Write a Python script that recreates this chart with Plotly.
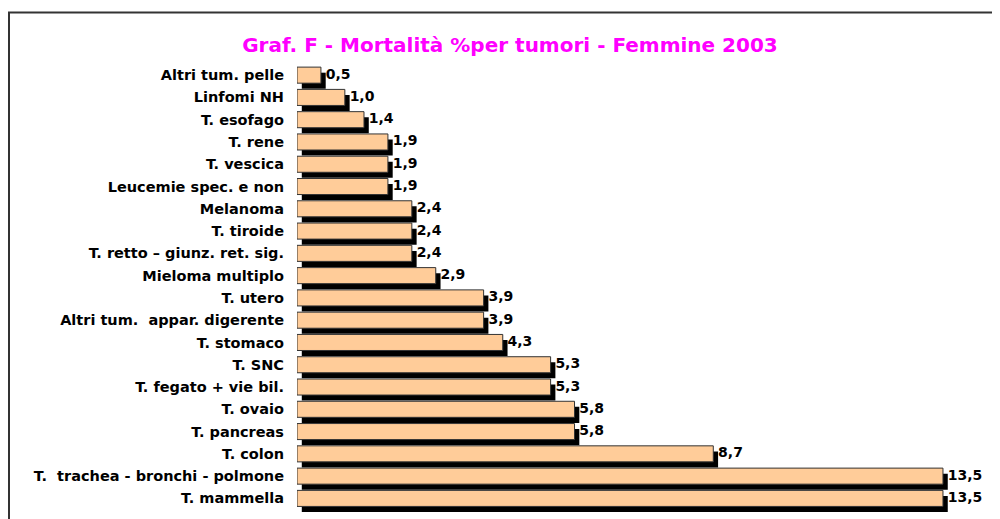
import plotly.graph_objects as go

categories = [
    "Altri tum. pelle", "Linfomi NH", "T. esofago", "T. rene", "T. vescica",
    "Leucemie spec. e non", "Melanoma", "T. tiroide", "T. retto – giunz. ret. sig.",
    "Mieloma multiplo", "T. utero", "Altri tum.  appar. digerente", "T. stomaco",
    "T. SNC", "T. fegato + vie bil.", "T. ovaio", "T. pancreas", "T. colon",
    "T.  trachea - bronchi - polmone", "T. mammella",
]
values = [0.5, 1.0, 1.4, 1.9, 1.9, 1.9, 2.4, 2.4, 2.4, 2.9, 3.9, 3.9, 4.3,
          5.3, 5.3, 5.8, 5.8, 8.7, 13.5, 13.5]
labels = [f"{v:.1f}".replace(".", ",") for v in values]
title_text = "Graf. F - Mortalità %per tumori - Femmine 2003"

pos = list(range(len(categories)))
shadow_dx = 0.1
shadow_dy = 0.25
bar_w = 0.72

fig = go.Figure()
fig.add_trace(go.Bar(
    y=[p + shadow_dy for p in pos], x=values, base=shadow_dx, orientation="h",
    width=bar_w, marker=dict(color="black", line=dict(width=0)),
    hoverinfo="skip", showlegend=False,
))
fig.add_trace(go.Bar(
    y=pos, x=values, orientation="h", width=bar_w,
    marker=dict(color="#FFCC99", line=dict(color="#333333", width=1)),
    showlegend=False,
))
fig.add_trace(go.Scatter(
    y=pos, x=[v + shadow_dx for v in values], mode="text", text=labels,
    textposition="middle right", cliponaxis=False,
    textfont=dict(family="DejaVu Sans", size=14, color="black", weight="bold"),
    showlegend=False, hoverinfo="skip",
))

# page offset of the figure (browser body margin)
OFF = 8
W, H = 1000 - OFF, 519 - OFF
L, T = 297 - OFF, 64 - OFF
px_per_unit = 47.85
plot_w = W - L
x_max = plot_w / px_per_unit
y_top, y_bot = -0.5, 19.7
px_per_cat = 22.26
plot_h = (y_bot - y_top) * px_per_cat
B = H - T - plot_h

fig.update_layout(
    width=W, height=H,
    margin=dict(l=L, r=0, t=T, b=B),
    paper_bgcolor="white", plot_bgcolor="white",
    barmode="overlay",
    title=dict(text=title_text, x=(510 - OFF) / W, xanchor="center",
               y=1 - (45 - OFF) / H, yanchor="middle",
               font=dict(family="DejaVu Sans", size=20, color="#FF00FF", weight="bold")),
    xaxis=dict(range=[0, x_max], visible=False, showgrid=False, zeroline=False),
    yaxis=dict(range=[y_bot, y_top], tickmode="array", tickvals=pos, ticktext=categories,
               showgrid=False, zeroline=False, showline=False, ticks="",
               ticklabelstandoff=12,
               tickfont=dict(family="DejaVu Sans", size=14.5, color="black", weight="bold")),
)

# outer frame
x0p = (1 - L) / plot_w
y1p = (T + plot_h - (12.5 - OFF)) / plot_h
fig.add_shape(type="rect", xref="paper", yref="paper", x0=x0p, x1=1.05, y0=-0.2, y1=y1p,
              line=dict(color="#333333", width=2), fillcolor="rgba(0,0,0,0)", layer="below")

fig.write_html("out.html")
